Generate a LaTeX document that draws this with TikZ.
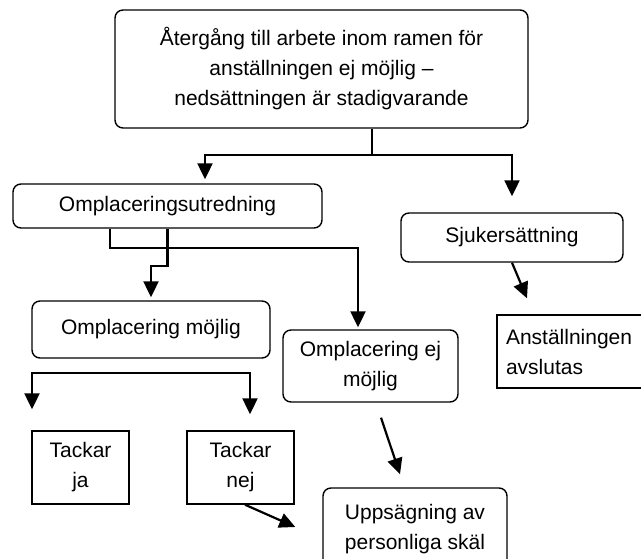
\documentclass[tikz,border=0pt]{standalone}
\usepackage{fontspec}
\setmainfont{Liberation Sans}
\usetikzlibrary{arrows.meta}
\begin{document}
\begin{tikzpicture}[x=1pt,y=-1pt,
  every node/.style={font=\fontsize{21}{30}\selectfont},
  rbox/.style={draw,line width=1.4pt,rounded corners=8pt,align=center,inner sep=0pt},
  sbox/.style={draw,line width=1.4pt,align=center,inner sep=0pt},
  arr/.style={line width=2.2pt,-{Triangle[length=16pt,width=15pt]}}]
\useasboundingbox (0,0) rectangle (641,559);
\node[rbox,minimum width=413pt,minimum height=118pt] (top) at (321.5,69)
  {Återgång till arbete inom ramen för\\anställningen ej möjlig –\\nedsättningen är stadigvarande};
\node[rbox,minimum width=309pt,minimum height=44pt] (omp) at (167.5,206) {Omplaceringsutredning};
\node[rbox,minimum width=222pt,minimum height=49pt] (sjuk) at (512,237.5) {Sjukersättning};
\node[rbox,minimum width=238pt,minimum height=57pt] (moj) at (151,329.5) {Omplacering möjlig};
\node[rbox,minimum width=175pt,minimum height=72pt] (ejmoj) at (370.5,366) {Omplacering ej\\möjlig};
\node[sbox,minimum width=150pt,minimum height=73pt,align=left,text width=132pt] (anst) at (572,351.5) {Anställningen\\avslutas};
\node[sbox,minimum width=97pt,minimum height=73pt] (ja) at (80.5,467.5) {Tackar\\ja};
\node[sbox,minimum width=107pt,minimum height=73pt] (nej) at (240.5,467.5) {Tackar\\nej};
\node[rbox,minimum width=184pt,minimum height=82pt] (upps) at (415,529) {Uppsägning av\\personliga skäl};
\coordinate (fork) at (141,373);
\draw[arr] ([xshift=50.5pt]top.south) -- ++(0,26) -| ([xshift=37.5pt,yshift=4pt]omp.north);
\draw[arr] ([xshift=50.5pt]top.south) -- ++(0,26) -| ([yshift=16pt]sjuk.north);
\draw[arr] (omp.south) -- ++(0,37) -| ([yshift=3pt]moj.north);
\draw[arr] ([xshift=-57.5pt]omp.south) -- ++(0,19) -| ([xshift=-12.5pt,yshift=2pt]ejmoj.north);
\draw[arr] (sjuk.south) -- ([xshift=-45pt,yshift=16pt]anst.north);
\draw[arr] (fork) -| ([xshift=-48.5pt,yshift=21pt]ja.north);
\draw[arr] (fork) -| ([xshift=9.5pt,yshift=16pt]nej.north);
\draw[arr] ([xshift=10.5pt,yshift=-15pt]ejmoj.south) -- ([xshift=-15pt,yshift=13pt]upps.north);
\draw[arr] ([xshift=4.5pt]nej.south) -- ([xshift=-27pt,yshift=2pt]upps.west);
\end{tikzpicture}
\end{document}
